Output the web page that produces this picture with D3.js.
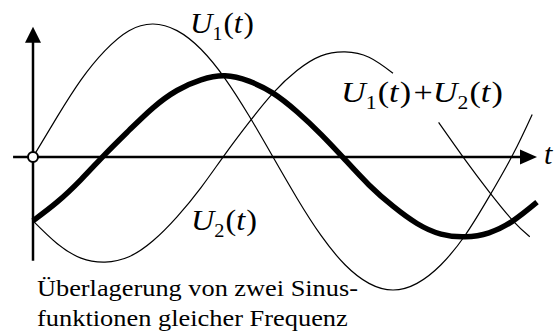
<!DOCTYPE html>
<html>
<head>
<meta charset="utf-8">
<script src="https://cdn.jsdelivr.net/npm/d3@7"></script>
</head>
<body style="margin:0">
<div id="chart"></div>
<script>
// Überlagerung von zwei Sinusfunktionen gleicher Frequenz

// t in arbitrary units, U in arbitrary units
const tU1 = [0, 1, 2, 3, 4, 5, 6, 7, 8, 9, 10, 11, 12, 13, 14, 15, 16, 17, 18, 19, 20, 20.8];
const vU1 = [0, 1.5, 2.9, 4.0, 4.75, 5.0, 4.75, 4.05, 2.95, 1.55, 0, -1.55, -2.95, -4.05, -4.75, -5.0, -4.75, -4.05, -2.95, -1.5, 0.1, 1.6];

// U2 is drawn in two pieces, with a gap for the sum label
const tU2a = [0, 1, 2, 3, 4, 5, 6, 7, 8, 9, 10, 11, 12, 13, 14, 15];
const vU2a = [-2.4, -3.25, -3.8, -3.95, -3.75, -3.15, -2.25, -1.15, 0.1, 1.3, 2.4, 3.25, 3.8, 3.95, 3.75, 3.15];
const tU2b = [16.9, 18, 19, 20, 20.7];
const vU2b = [1.3, -0.1, -1.3, -2.4, -3.0];

const tSum = [0, 1, 2, 3, 4, 5, 6, 7, 8, 9, 10, 11, 12, 13, 14, 15, 16, 17, 18, 19, 20, 21];
const vSum = [-2.4, -1.7, -0.85, 0.1, 1.0, 1.85, 2.5, 2.9, 3.05, 2.85, 2.4, 1.7, 0.85, -0.1, -1.05, -1.85, -2.5, -2.9, -3.0, -2.85, -2.4, -1.7];

const caption = ['Überlagerung von zwei Sinus-', 'funktionen gleicher Frequenz'];

const width = 556;
const height = 334;
const fontName = 'Liberation Serif';

const svg = d3.select('#chart')
  .append('svg')
  .attr('width', width)
  .attr('height', height)
  .attr('font-family', fontName);

// Scales
const x = d3.scaleLinear()
  .domain([0, 21])
  .range([33, 537]);

const y = d3.scaleLinear()
  .domain([-5, 5])
  .range([290, 24]);

// Axes (plain arrows, no ticks)
const tAxisMin = -0.83;
const tAxisMax = 21;
const uAxisMin = -3.9;
const uAxisMax = 4.9;

svg.append('line')
  .attr('x1', x(tAxisMin))
  .attr('x2', x(tAxisMax) - 12)
  .attr('y1', y(0))
  .attr('y2', y(0))
  .attr('stroke', '#000')
  .attr('stroke-width', 2.5);

svg.append('polygon')
  .attr('points', [
    [x(tAxisMax), y(0)],
    [x(tAxisMax) - 17, y(0) - 7.5],
    [x(tAxisMax) - 17, y(0) + 7.5]
  ].map(p => p.join(',')).join(' '))
  .attr('fill', '#000');

svg.append('line')
  .attr('x1', x(0))
  .attr('x2', x(0))
  .attr('y1', y(uAxisMin))
  .attr('y2', y(uAxisMax) + 12)
  .attr('stroke', '#000')
  .attr('stroke-width', 2.5);

svg.append('polygon')
  .attr('points', [
    [x(0), y(uAxisMax)],
    [x(0) - 8, y(uAxisMax) + 16],
    [x(0) + 8, y(uAxisMax) + 16]
  ].map(p => p.join(',')).join(' '))
  .attr('fill', '#000');

// Curves
const line = d3.line()
  .x(d => x(d[0]))
  .y(d => y(d[1]))
  .curve(d3.curveNatural);

const zip = (ts, vs) => ts.map((t, i) => [t, vs[i]]);

const curves = [
  { pts: zip(tU1, vU1), w: 1.2 },
  { pts: zip(tU2a, vU2a), w: 1.2 },
  { pts: zip(tU2b, vU2b), w: 1.2 },
  { pts: zip(tSum, vSum), w: 5.5 }
];

svg.selectAll('.curve')
  .data(curves)
  .enter()
  .append('path')
  .attr('class', 'curve')
  .attr('fill', 'none')
  .attr('stroke', '#000')
  .attr('stroke-width', d => d.w)
  .attr('d', d => line(d.pts));

// Origin circle
svg.append('circle')
  .attr('cx', x(0))
  .attr('cy', y(0))
  .attr('r', 5)
  .attr('fill', '#fff')
  .attr('stroke', '#000')
  .attr('stroke-width', 2);

// the reference lettering is a bit wider than the font, so stretch it
function placeWide(text, px, py, targetWidth) {
  const w = text.node().getBBox().width;
  const s = w > 0 ? targetWidth / w : 1;
  text.attr('x', 0).attr('y', 0)
    .attr('transform', `translate(${px},${py}) scale(${s},1)`);
  return text;
}

// Formula labels: U_n(t)
function formula(parts) {
  const text = svg.append('text')
    .style('font-family', `"${fontName}"`)
    .style('font-size', '30px');
  parts.forEach(p => {
    const ts = text.append('tspan').text(p.s);
    if (p.italic) ts.style('font-style', 'italic');
    if (p.sub) ts.style('font-size', '19px').attr('dy', 7);
    if (p.up) ts.attr('dy', -7);
    if (p.dx) ts.attr('dx', p.dx);
  });
  return text;
}

const U = n => [
  { s: 'U', italic: true },
  { s: n, sub: true },
  { s: '(', up: true, dx: 1 },
  { s: 't', italic: true },
  { s: ')', dx: 1 }
];

placeWide(formula(U('1')), 190, 33, 64);
placeWide(formula(U('2')), 191, 230, 66);
placeWide(formula(U('1').concat([{ s: '+', dx: 2 }], U('2'))), 341, 102, 162);

svg.append('text')
  .attr('x', 544)
  .attr('y', 164)
  .style('font-family', `"${fontName}"`)
  .style('font-size', '30px')
  .style('font-style', 'italic')
  .text('t');

// Caption
const captionWidths = [321, 311];
svg.selectAll('.caption')
  .data(caption)
  .enter()
  .append('text')
  .attr('class', 'caption')
  .style('font-family', `"${fontName}"`)
  .style('font-size', '24px')
  .text(d => d)
  .each(function(d, i) {
    placeWide(d3.select(this), 37, 296 + i * 30, captionWidths[i]);
  });
</script>
</body>
</html>
